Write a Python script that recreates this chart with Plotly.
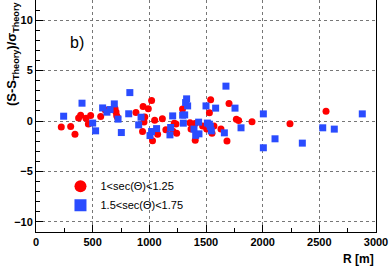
import plotly.graph_objects as go

# Series 1: 1<sec(Θ)<1.25 (red circles)
red_r = [223, 306, 344, 376, 394, 441, 462, 482, 571, 611, 697, 706, 712, 720,
         882, 945, 991, 1020, 960, 953, 940, 1028, 1047, 1073, 1115, 1146, 1220,
         1235, 1208, 1241, 1293, 1359, 1368, 1403, 1405, 1470, 1506, 1518, 1530,
         1541, 1553, 1570, 1632, 1685, 1703, 1768, 1788, 1906, 2241, 2559]
red_v = [-0.6, -0.55, -1.3, 0.3, 0.58, 0.27, -0.3, 0.55, 0.45, 1.1, 1.25, 0.9, 0.52, 0.35,
         0.84, 1.44, 1.22, 2.03, 0.4, -0.1, -1.04, -1.95, 0.08, -1.32, 0.23, -0.87, -0.21,
         -0.3, -1.0, -1.2, 1.19, -0.18, -0.78, -0.25, -1.9, -0.5, -0.78, -0.41, 0.82,
         2.1, -1.22, -0.49, -0.8, -1.99, 1.74, 0.19, 0.05, -0.08, -0.28, 0.98]

# Series 2: 1.5<sec(Θ)<1.75 (blue squares)
blue_r = [244, 406, 500, 526, 588, 626, 653, 691, 724, 753, 828, 818, 927, 906,
          1006, 1020, 1064, 1188, 1182, 1206, 1294, 1312, 1300, 1329, 1320, 1338,
          1394, 1409, 1438, 1435, 1500, 1512, 1529, 1538, 1547, 1585, 1662, 1676,
          1756, 1809, 2006, 2006, 2109, 2350, 2530, 2632, 2879]
blue_v = [0.48, 1.77, -0.2, -0.97, 1.3, 0.88, 1.14, 1.7, 0.19, -1.14, 2.82, 0.72, 0.38, -0.38,
          -1.44, -1.04, -0.75, -0.64, -1.37, 0.51, 0.58, 0.61, -0.21, 2.2, 1.83, 1.5,
          -0.8, -1.42, -1.27, -0.11, 1.5, -0.2, -0.31, -0.54, -0.97, 1.28, -1.17, 3.46,
          1.28, -0.67, 0.71, -2.65, -1.76, -2.19, -0.67, -0.8, 0.71]

x_ticks = [0, 500, 1000, 1500, 2000, 2500, 3000]
y_ticks = [-10, -5, 0, 5, 10]

FONT = "Liberation Sans, Arial, sans-serif"

fig = go.Figure()
fig.add_trace(go.Scatter(
    x=red_r, y=red_v, mode="markers", name="1<sec(Θ)<1.25",
    marker=dict(symbol="circle", size=7, color="#ff0000", line=dict(width=0))))
fig.add_trace(go.Scatter(
    x=blue_r, y=blue_v, mode="markers", name="1.5<sec(Θ)<1.75",
    marker=dict(symbol="square", size=7, color="#2a4cff", line=dict(width=0))))

axis_common = dict(
    showline=True, linecolor="black", linewidth=1, mirror=True,
    showgrid=True, gridcolor="#777777", griddash="dot", gridwidth=1,
    zeroline=False, ticks="inside", tickcolor="black", ticklen=7,
    tickfont=dict(family=FONT, size=11, color="black", weight="bold"),
)

fig.update_layout(
    width=389, height=269,
    margin=dict(l=36, r=13, t=0, b=37, autoexpand=False),
    paper_bgcolor="white", plot_bgcolor="white",
    showlegend=True,
    legend=dict(x=0.072, y=0.26, xanchor="left", yanchor="top",
                bgcolor="rgba(0,0,0,0)", borderwidth=0,
                font=dict(family=FONT, size=11, color="black"),
                itemsizing="constant", tracegroupgap=0),
    xaxis=dict(range=[0, 3000], tickvals=x_ticks,
               minor=dict(dtick=250, ticks="inside", ticklen=4, tickcolor="black", showgrid=False),
               **axis_common),
    yaxis=dict(range=[-11, 12], tickvals=y_ticks,
               minor=dict(dtick=1, ticks="inside", ticklen=4, tickcolor="black", showgrid=False),
               **axis_common),
)

fig.add_annotation(
    text="(S-S<sub>Theory</sub>)/σ<sub>Theory</sub>", textangle=-90,
    xref="paper", yref="paper", x=0, y=1, xshift=-24, xanchor="center", yanchor="top",
    showarrow=False, font=dict(family=FONT, size=13, color="black", weight="bold"))
fig.add_annotation(
    text="R [m]", xref="paper", yref="paper", x=1, y=0, yshift=-18,
    xanchor="right", yanchor="top", showarrow=False,
    font=dict(family=FONT, size=12, color="black", weight="bold"))
fig.add_annotation(
    text="b)", xref="paper", yref="paper", x=0.095, y=0.815,
    xanchor="left", yanchor="middle", showarrow=False,
    font=dict(family=FONT, size=16, color="black"))

fig.write_html("out.html", config={"displayModeBar": False},
               post_script="document.body.style.margin='0';document.body.style.overflow='hidden';")
